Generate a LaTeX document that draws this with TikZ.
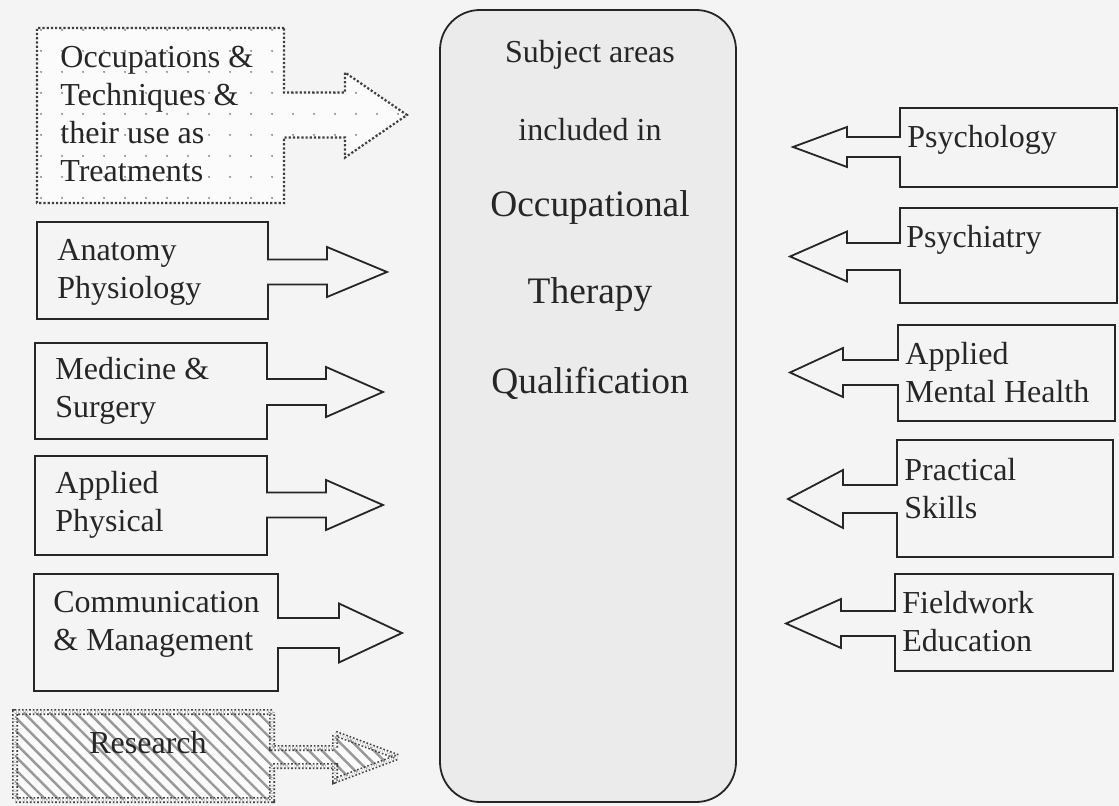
\documentclass[tikz,border=0pt]{standalone}
\usepackage{fontspec}
\setmainfont{Liberation Serif}
\usetikzlibrary{patterns.meta}
\tikzset{
  plainbox/.style={
    draw=black!85,
    line width=0.9pt,
    line join=miter
  },
  dotbox/.style={
    draw=black!75,
    line width=1.1pt,
    densely dotted,
    preaction={fill=gray!3},
    pattern={Dots[distance=10.5pt,radius=0.55pt]},
    pattern color=black!50
  },
  hatchbox/.style={
    draw=black!75,
    line width=0.8pt,
    densely dotted,
    double=gray!6,
    double distance=1.4pt,
    preaction={fill=gray!3},
    preaction={solid, pattern={Lines[angle=-45,distance=4.6pt,line width=1.2pt]}, pattern color=black!40}
  },
  centerbox/.style={
    draw=black!85,
    line width=0.9pt,
    rounded corners=20pt,
    fill=gray!16
  },
  itemtext/.style={
    inner sep=0pt,
    anchor=west,
    align=left,
    text=black!85,
    font=\fontsize{16}{19}\selectfont
  },
  smalltext/.style={
    inner sep=0pt,
    text=black!85,
    font=\fontsize{16}{19}\selectfont
  },
  bigtext/.style={
    inner sep=0pt,
    text=black!85,
    font=\fontsize{18.7}{22}\selectfont
  }
}
% box with arrow: attach x, top, far x, bottom, arrow y, shaft half, head half, head x, tip x
\newcommand{\callout}[9]{(#1,#2) -- (#3,#2) -- (#3,#4) -- (#1,#4) -- (#1,{#5+#6}) -- (#8,{#5+#6}) -- (#8,{#5+#7}) -- (#9,#5) -- (#8,{#5-#7}) -- (#8,{#5-#6}) -- (#1,{#5-#6}) -- cycle}

\begin{document}
\begin{tikzpicture}[x=0.5pt,y=-0.5pt]
  \fill[gray!9] (0,0) rectangle (1119,806);
  \useasboundingbox (0,0) rectangle (1119,806);

  % centre
  \draw[centerbox] (440,10) rectangle (736,802);
  \node[smalltext] (subj) at (590,55) {Subject areas};
  \node[smalltext] (incl) at (590,130) {included in};
  \node[bigtext] (occu) at (590,208) {Occupational};
  \node[bigtext] (ther) at (590,295) {Therapy};
  \node[bigtext] (qual) at (590,383) {Qualification};

  % left side
  \draw[dotbox] \callout{284}{28}{37}{203}{115}{22.5}{42.5}{345}{407};
  \node[itemtext] (occ) at (60,114) {Occupations \&\\Techniques \&\\their use as\\Treatments};

  \draw[plainbox] \callout{268}{222}{37}{319}{272}{12.5}{25}{327}{387};
  \node[itemtext] (anat) at (57,272) {Anatomy\\Physiology};

  \draw[plainbox] \callout{267}{343}{35}{439}{392}{13}{25}{326}{383};
  \node[itemtext] (med) at (55,391) {Medicine \&\\Surgery};

  \draw[plainbox] \callout{267}{456}{35}{555}{505}{12.5}{25}{326}{383};
  \node[itemtext] (aphys) at (55,505) {Applied\\Physical};

  \draw[plainbox] \callout{278}{574}{34}{691}{633}{15}{29.5}{339}{402};
  \node[itemtext] (comm) at (53,624) {Communication\\\& Management};

  \draw[hatchbox] \callout{272}{712}{15}{800}{757}{9}{23.5}{335}{398};
  \node[smalltext] (res) at (148,743) {Research};

  % right side
  \draw[plainbox] \callout{900}{108}{1117}{187}{147}{10}{20}{847}{793};
  \node[itemtext] (psyc) at (907,140) {Psychology};

  \draw[plainbox] \callout{900}{208}{1117}{303}{256.5}{13.5}{25}{847}{790};
  \node[itemtext] (psych) at (906,240) {Psychiatry};

  \draw[plainbox] \callout{898}{325}{1115}{421}{372.5}{12.5}{24.5}{843}{790};
  \node[itemtext] (amh) at (905,373) {Applied\\Mental Health};

  \draw[plainbox] \callout{897}{440}{1113}{557}{499}{14}{29}{843}{788};
  \node[itemtext] (prac) at (904,489) {Practical\\Skills};

  \draw[plainbox] \callout{895}{574}{1113}{671}{623.5}{12.5}{24.5}{841}{786};
  \node[itemtext] (field) at (902,622) {Fieldwork\\Education};
\end{tikzpicture}
\end{document}
